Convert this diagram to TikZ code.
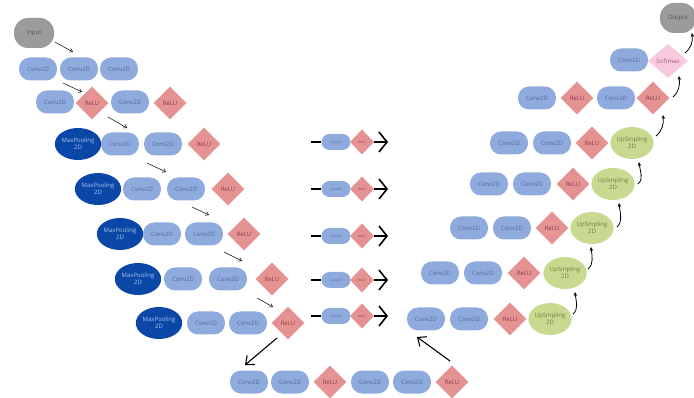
\documentclass[tikz,border=0pt]{standalone}
\usepackage{fontspec}
\setmainfont{Open Sans}
\usetikzlibrary{shapes.geometric,arrows.meta}
\definecolor{convc}{HTML}{8FAADC}
\definecolor{convt}{HTML}{4D6A9E}
\definecolor{reluc}{HTML}{E49292}
\definecolor{relut}{HTML}{8C3B45}
\definecolor{poolc}{HTML}{0B47A6}
\definecolor{poolt}{HTML}{A8C4F2}
\definecolor{upc}{HTML}{C7DA8F}
\definecolor{upt}{HTML}{6E7E40}
\definecolor{softc}{HTML}{F9C9E0}
\definecolor{softt}{HTML}{A05A80}
\definecolor{grayc}{HTML}{9B9B9B}
\definecolor{grayt}{HTML}{555555}
\begin{document}
\begin{tikzpicture}[x=1pt,y=-1pt,
  txt/.style={font=\fontsize{6}{7}\selectfont},
  conv/.style={txt,fill=convc,rounded corners=11pt,minimum width=38pt,minimum height=23pt,inner sep=0pt,text=convt},
  relu/.style={txt,diamond,fill=reluc,minimum width=33pt,minimum height=33pt,inner sep=0pt,text=relut},
  pool/.style={txt,ellipse,fill=poolc,minimum width=39pt,minimum height=32pt,inner sep=0pt,text=poolt,align=center},
  upnode/.style={txt,ellipse,fill=upc,minimum width=38pt,minimum height=32pt,inner sep=0pt,text=upt,align=center},
  softnode/.style={txt,diamond,fill=softc,minimum width=40pt,minimum height=34pt,inner sep=0pt,text=softt},
  graynode/.style={txt,fill=grayc,rounded corners=14pt,minimum width=40pt,minimum height=30pt,inner sep=0pt,text=grayt},
  sconv/.style={font=\fontsize{3.2}{3.6}\selectfont,fill=convc,rounded corners=8pt,minimum width=29pt,minimum height=16pt,inner sep=0pt,text=convt},
  srelu/.style={font=\fontsize{3.2}{3.6}\selectfont,diamond,fill=reluc,minimum width=24pt,minimum height=25pt,inner sep=0pt,text=relut},
  thinarr/.style={-{Straight Barb[length=3pt,width=4pt]},line width=0.5pt},
  stub/.style={line width=1.8pt},
  bigarr/.style={-{Straight Barb[length=8pt,width=20pt]},line width=1.6pt},
  downarr/.style={-{Straight Barb[length=7pt,width=12pt]},line width=1.1pt},
  curvarr/.style={-{Stealth[length=4pt,width=3.5pt]},line width=0.8pt}
]
\useasboundingbox (0,0) rectangle (694,398);

% ---- encoder ----
\node[graynode] (input) at (34,33) {Input};
\coordinate (a0s) at (55,42); \coordinate (a0e) at (73,52);
\draw[thinarr] (a0s) -- (a0e);

\node[conv] (r1a) at (38,69) {Conv2D};
\node[conv] (r1b) at (79,69) {Conv2D};
\node[conv] (r1c) at (119,69) {Conv2D};
\coordinate (a1s) at (63,83); \coordinate (a1e) at (82,92);
\draw[thinarr] (a1s) -- (a1e);

\node[conv] (r2a) at (55,102) {Conv2D};
\node[relu] (r2b) at (92,103) {ReLU};
\node[conv] (r2c) at (130,102) {Conv2D};
\node[relu] (r2d) at (170,103) {ReLU};
\coordinate (a2s) at (108,117); \coordinate (a2e) at (127,128);
\draw[thinarr] (a2s) -- (a2e);

\node[pool] (r3a) at (78,144) {MaxPooling\\2D};
\node[conv] (r3b) at (120,144) {Conv2D};
\node[conv] (r3c) at (163,144) {Conv2D};
\node[relu] (r3d) at (204,144) {ReLU};
\coordinate (a3s) at (147,163); \coordinate (a3e) at (166,172);
\draw[thinarr] (a3s) -- (a3e);

\node[pool] (r4a) at (98,189) {MaxPooling\\2D};
\node[conv] (r4b) at (142,189) {Conv2D};
\node[conv] (r4c) at (186,189) {Conv2D};
\node[relu] (r4d) at (228,189) {ReLU};
\coordinate (a4s) at (192,207); \coordinate (a4e) at (209,215);
\draw[thinarr] (a4s) -- (a4e);

\node[pool] (r5a) at (120,234) {MaxPooling\\2D};
\node[conv] (r5b) at (162,234) {Conv2D};
\node[conv] (r5c) at (204,234) {Conv2D};
\node[relu] (r5d) at (244,234) {ReLU};
\coordinate (a5s) at (224,252); \coordinate (a5e) at (242,261);
\draw[thinarr] (a5s) -- (a5e);

\node[pool] (r6a) at (138,279) {MaxPooling\\2D};
\node[conv] (r6b) at (183,279) {Conv2D};
\node[conv] (r6c) at (228,279) {Conv2D};
\node[relu] (r6d) at (272,279) {ReLU};
\coordinate (a6s) at (257,298); \coordinate (a6e) at (273,307);
\draw[thinarr] (a6s) -- (a6e);

\node[pool] (r7a) at (159,323) {MaxPooling\\2D};
\node[conv] (r7b) at (206,323) {Conv2D};
\node[conv] (r7c) at (248,323) {Conv2D};
\node[relu] (r7d) at (288,323) {ReLU};

% ---- bottleneck ----
\node[conv] (b1) at (249,382) {Conv2D};
\node[conv] (b2) at (290,382) {Conv2D};
\node[relu] (b3) at (330,382) {ReLU};
\node[conv] (b4) at (370,382) {Conv2D};
\node[conv] (b5) at (412,382) {Conv2D};
\node[relu] (b6) at (452,382) {ReLU};
\coordinate (d1s) at (277,338); \coordinate (d1e) at (245,365);
\draw[downarr] (d1s) -- (d1e);
\coordinate (d2s) at (450,361); \coordinate (d2e) at (417,337);
\draw[downarr] (d2s) -- (d2e);

% ---- skip connections ----
\foreach \i/\y in {1/142,2/189,3/236,4/280,5/316}{
  \coordinate (m\i s) at (311,\y);
  \node[sconv] (m\i c) at (336,\y) {Conv2D};
  \node[srelu] (m\i r) at (362,\y) {ReLU};
  \coordinate (m\i e) at (388,\y);
  \draw[stub] (m\i s) -- (m\i c.west);
  \draw[bigarr] (m\i r.east) -- (m\i e);
}

% ---- decoder ----
\node[conv] (u1a) at (426,319) {Conv2D};
\node[conv] (u1b) at (469,319) {Conv2D};
\node[relu] (u1c) at (510,319) {ReLU};
\node[upnode] (u1d) at (550,319) {UpSmpling\\2D};

\node[conv] (u2a) at (440,273) {Conv2D};
\node[conv] (u2b) at (483,273) {Conv2D};
\node[relu] (u2c) at (524,273) {ReLU};
\node[upnode] (u2d) at (565,273) {UpSmpling\\2D};

\node[conv] (u3a) at (469,228) {Conv2D};
\node[conv] (u3b) at (512,228) {Conv2D};
\node[relu] (u3c) at (552,228) {ReLU};
\node[upnode] (u3d) at (592,228) {UpSmpling\\2D};

\node[conv] (u4a) at (489,184) {Conv2D};
\node[conv] (u4b) at (532,184) {Conv2D};
\node[relu] (u4c) at (573,184) {ReLU};
\node[upnode] (u4d) at (613,184) {UpSmpling\\2D};

\node[conv] (u5a) at (509,143) {Conv2D};
\node[conv] (u5b) at (552,143) {Conv2D};
\node[relu] (u5c) at (592,143) {ReLU};
\node[upnode] (u5d) at (632,143) {UpSmpling\\2D};

\node[conv] (u6a) at (537,98) {Conv2D};
\node[relu] (u6b) at (577,98) {ReLU};
\node[conv] (u6c) at (616,98) {Conv2D};
\node[relu] (u6d) at (653,98) {ReLU};

\node[conv] (u7a) at (629,60) {Conv2D};
\node[softnode] (u7b) at (668,61) {Softmax};

\node[graynode,minimum width=36pt] (output) at (678,18) {Output};

\foreach \k/\sx/\sy/\ex/\ey in {1/573/314/575/292, 2/588/269/591/247, 3/617/227/619/203,
    4/638/184/639/162, 5/656/136/663/115, 6/673/97/679/76, 7/685/53/692/33}{
  \coordinate (c\k s) at (\sx,\sy);
  \coordinate (c\k e) at (\ex,\ey);
  \draw[curvarr] (c\k s) .. controls +(6,-5) and +(1,9) .. (c\k e);
}
\end{tikzpicture}
\end{document}
